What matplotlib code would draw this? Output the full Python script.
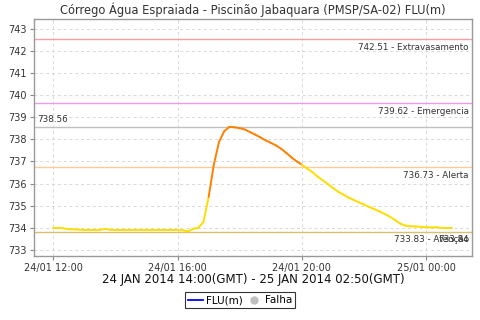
import datetime as dt
import matplotlib
matplotlib.use('Agg')
import matplotlib.pyplot as plt
import matplotlib.dates as mdates
import matplotlib.transforms as mtransforms
from matplotlib.lines import Line2D

# FLU(m) level, every 10 minutes from 24/01 12:00 to 25/01 00:50 (local time)
start = dt.datetime(2014, 1, 24, 12, 0)
levels = [
    734.00, 734.00, 733.98, 733.94, 733.93, 733.92, 733.90, 733.90, 733.90, 733.91,
    733.95, 733.92, 733.90, 733.90, 733.90, 733.90, 733.90, 733.90, 733.90, 733.90,
    733.90, 733.90, 733.90, 733.90, 733.90, 733.89, 733.84, 733.96, 734.00, 734.27,
    735.40, 736.86, 737.88, 738.36, 738.56, 738.54, 738.50, 738.44, 738.32, 738.21,
    738.08, 737.95, 737.84, 737.72, 737.57, 737.38, 737.18, 737.00, 736.85, 736.68,
    736.52, 736.32, 736.15, 735.98, 735.80, 735.63, 735.50, 735.37, 735.26, 735.15,
    735.05, 734.94, 734.84, 734.74, 734.63, 734.50, 734.35, 734.19, 734.10, 734.07,
    734.06, 734.05, 734.03, 734.02, 734.03, 734.00, 733.99, 733.99,
]
times = [start + dt.timedelta(minutes=10 * i) for i in range(len(levels))]

# alarm levels
limit_values = [742.51, 739.62, 736.73, 733.83]
limit_names = ['Extravasamento', 'Emergencia', 'Alerta', 'Atenção']
limit_colors = ['#f2a0a0', '#ee99ee', '#ffcc99', '#d8c070']
max_level = 738.56
min_level = 733.84

fig = plt.figure(figsize=(4.8, 3.2), dpi=100)
ax = fig.add_axes([0.071, 0.2, 0.912, 0.74])

for v, c in zip(limit_values, limit_colors):
    ax.axhline(v, color=c, lw=1, zorder=2)
ax.axhline(max_level, color='#c0c0c0', lw=1, zorder=2)

# segment colour depends on the level reached at its end
alert = limit_values[2]
for i in range(len(levels) - 1):
    c = '#ff8000' if levels[i + 1] > alert else '#ffdd00'
    ax.plot(times[i:i + 2], levels[i:i + 2], color=c, lw=1.4,
            solid_capstyle='round', zorder=3)

trans = mtransforms.blended_transform_factory(ax.transAxes, ax.transData)
for v, n in zip(limit_values, limit_names):
    ax.text(0.993, v - 0.15, '{0:.2f} - {1}'.format(v, n), transform=trans,
            ha='right', va='top', fontsize=6.3, color='#333333')
ax.text(0.993, min_level - 0.15, '{0:.2f}'.format(min_level), transform=trans,
        ha='right', va='top', fontsize=6.3, color='#333333')
ax.text(0.007, max_level + 0.12, '{0:.2f}'.format(max_level), transform=trans,
        ha='left', va='bottom', fontsize=6.3, color='#333333')

ax.set_xlim(dt.datetime(2014, 1, 24, 11, 23), dt.datetime(2014, 1, 25, 1, 28))
ax.set_ylim(732.73, 743.42)
ax.set_yticks(range(733, 744))
ax.xaxis.set_major_locator(mdates.HourLocator(byhour=[0, 4, 8, 12, 16, 20]))
ax.xaxis.set_major_formatter(mdates.DateFormatter('%d/%m %H:%M'))
ax.tick_params(labelsize=7, colors='#333333', length=3, width=0.8, pad=2)
ax.tick_params(axis='both', color='#888888')
ax.grid(True, color='#d8d8d8', ls=(0, (3, 3)), lw=0.7)
for s in ax.spines.values():
    s.set_color('#999999')
    s.set_linewidth(1)

ax.set_title('Córrego Água Espraiada - Piscinão Jabaquara (PMSP/SA-02) FLU(m)',
             fontsize=8.3, color='#333333', pad=4)
ax.set_xlabel('24 JAN 2014 14:00(GMT) - 25 JAN 2014 02:50(GMT)',
              fontsize=8.5, color='#111111', labelpad=0)

handles = [Line2D([], [], color='blue', lw=1.3),
           Line2D([], [], color='#c0c0c0', marker='o', ls='', markersize=5)]
leg = fig.legend(handles, ['FLU(m)', 'Falha'], loc='lower center',
                 bbox_to_anchor=(0.5, 0.036), ncol=2, fontsize=7.5, frameon=True,
                 fancybox=False, handlelength=1.4, handletextpad=0.3,
                 columnspacing=0.4, borderpad=0.3, borderaxespad=0.0)
leg.get_frame().set_edgecolor('black')
leg.get_frame().set_linewidth(0.8)

plt.savefig('out.png', dpi=100)
